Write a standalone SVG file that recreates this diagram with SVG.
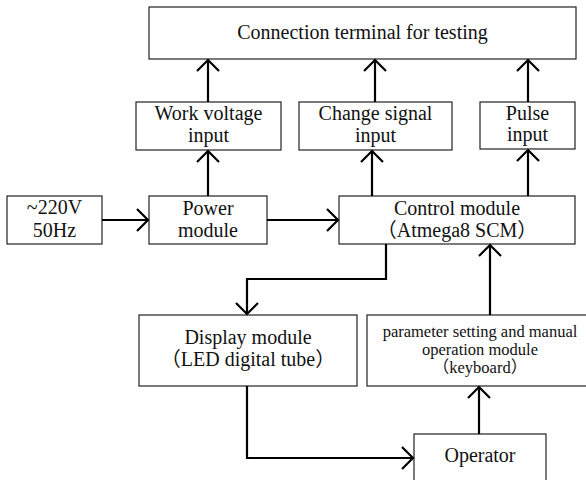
<svg xmlns="http://www.w3.org/2000/svg" width="586" height="480" viewBox="0 0 586 480">
<defs>
<marker id="arr" markerUnits="userSpaceOnUse" markerWidth="30" markerHeight="30" viewBox="-15 -15 30 30" refX="0" refY="0" orient="auto">
<path d="M-11,-11 L0,0 L-11,11" fill="none" stroke="#000" stroke-width="2.2"/>
</marker>
<style>
rect{fill:#fff;stroke:#222;stroke-width:1.2}
text{font-family:"Liberation Serif","Times New Roman","Noto Sans CJK SC",serif;font-size:20px;fill:#111;text-anchor:middle}
.sm{font-size:16.5px}
.c{fill:none;stroke:#000;stroke-width:2.2;marker-end:url(#arr)}
</style>
</defs>
<rect x="0" y="0" width="586" height="480" style="stroke:none"/>
<g id="terminal"><rect x="149" y="7" width="427" height="52"/><text x="362.5" y="39">Connection terminal for testing</text></g>
<g id="workvoltage"><rect x="136" y="102" width="145" height="48"/><text x="208.5" y="119.5">Work voltage</text><text x="208.5" y="141.5">input</text></g>
<g id="changesignal"><rect x="299" y="102" width="153" height="48"/><text x="375.5" y="119.5">Change signal</text><text x="375.5" y="141.5">input</text></g>
<g id="pulse"><rect x="480" y="102" width="95" height="47"/><text x="527.5" y="120">Pulse</text><text x="527.5" y="141">input</text></g>
<g id="ac"><rect x="7" y="196" width="95" height="48"/><text x="54.5" y="214">~220V</text><text x="54.5" y="237">50Hz</text></g>
<g id="power"><rect x="149" y="196" width="118" height="48"/><text x="208" y="215">Power</text><text x="208" y="237">module</text></g>
<g id="control"><rect x="339" y="196" width="236" height="48"/><text x="457" y="215">Control module</text><text x="457" y="237">（Atmega8 SCM）</text></g>
<g id="display"><rect x="139" y="315" width="218" height="71"/><text x="248" y="344">Display module</text><text x="248" y="366">（LED digital tube）</text></g>
<g id="param"><rect x="367" y="315" width="225" height="71"/><text class="sm" x="480" y="337">parameter setting and manual</text><text class="sm" x="480" y="355">operation module</text><text class="sm" x="480" y="373">（keyboard）</text></g>
<g id="operator"><rect x="414" y="434" width="132" height="60"/><text x="480" y="462">Operator</text></g>
<g id="connectors">
<path class="c" d="M208,102 V60"/>
<path class="c" d="M375,102 V60"/>
<path class="c" d="M528,102 V60"/>
<path class="c" d="M208,196 V151"/>
<path class="c" d="M372,196 V151"/>
<path class="c" d="M528,196 V150"/>
<path class="c" d="M102,220 H148"/>
<path class="c" d="M267,220 H338"/>
<path class="c" d="M386,244 V279 H247 V314"/>
<path class="c" d="M490,315 V245"/>
<path class="c" d="M479,434 V387"/>
<path class="c" d="M247,386 V458 H413"/>
</g>
</svg>
